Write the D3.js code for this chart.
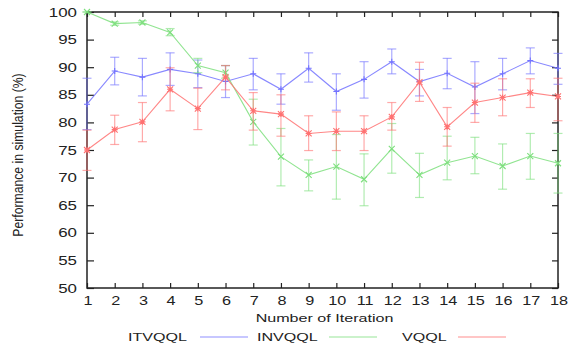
<!DOCTYPE html>
<html>
<head>
<meta charset="utf-8">
<script src="https://cdn.jsdelivr.net/npm/d3@7"></script>
<style>
  body { margin: 0; background: #fff; }
  text { font-family: "Liberation Sans", Arial, sans-serif; fill: #222; }
</style>
</head>
<body>
<div id="chart"></div>
<script>
// values
var iterations = [1, 2, 3, 4, 5, 6, 7, 8, 9, 10, 11, 12, 13, 14, 15, 16, 17, 18];
var yTicks = [50, 55, 60, 65, 70, 75, 80, 85, 90, 95, 100];

var itvqql   = [83.3, 89.3, 88.2, 89.6, 88.8, 87.4, 88.8, 86.0, 89.8, 85.6, 87.8, 91.0, 87.4, 88.9, 86.4, 88.8, 91.2, 89.8];
var itvqqlLo = [78.7, 86.8, 84.8, 86.7, 86.3, 84.5, 85.9, 83.3, 87.3, 82.2, 84.4, 88.8, 84.8, 86.1, 81.6, 85.9, 88.8, 86.9];
var itvqqlHi = [88.0, 91.8, 91.6, 92.6, 91.3, 90.3, 91.6, 88.8, 92.6, 88.8, 91.0, 93.3, 89.6, 91.6, 91.0, 91.6, 93.5, 92.5];

var invqql   = [100, 97.9, 98.1, 96.3, 90.3, 89.0, 80.1, 73.8, 70.5, 72.0, 69.7, 75.2, 70.5, 72.7, 73.9, 72.1, 73.9, 72.6];
var invqqlLo = [100, 97.6, 97.8, 95.7, 89.0, 88.0, 75.9, 68.5, 67.6, 66.1, 64.9, 70.8, 66.4, 69.6, 70.7, 67.9, 69.7, 67.2];
var invqqlHi = [100, 98.2, 98.4, 97.0, 91.6, 90.3, 84.2, 78.9, 73.2, 77.8, 74.3, 79.8, 74.4, 77.5, 77.3, 76.1, 78.0, 78.0];

var vqql   = [75.0, 78.7, 80.1, 86.0, 82.5, 88.2, 82.1, 81.5, 78.0, 78.4, 78.4, 81.0, 87.3, 79.2, 83.6, 84.5, 85.4, 84.7];
var vqqlLo = [71.3, 76.0, 76.5, 82.1, 78.7, 85.9, 78.6, 77.5, 74.9, 74.9, 74.9, 78.6, 83.8, 75.7, 80.0, 81.2, 82.7, 80.3];
var vqqlHi = [78.6, 81.3, 83.6, 89.9, 86.2, 90.3, 85.4, 85.0, 81.2, 81.9, 81.2, 83.6, 90.9, 82.7, 87.1, 87.9, 87.9, 88.0];

var seriesNames = ["ITVQQL", "INVQQL", "VQQL"];

var series = [
  { name: seriesNames[0], vals: itvqql, lo: itvqqlLo, hi: itvqqlHi, color: "#7373ff", marker: "plus" },
  { name: seriesNames[1], vals: invqql, lo: invqqlLo, hi: invqqlHi, color: "#7ddf7d", marker: "cross" },
  { name: seriesNames[2], vals: vqql, lo: vqqlLo, hi: vqqlHi, color: "#ff7171", marker: "star" }
];

var W = 570, H = 343;
var margin = { top: 12, right: 12, bottom: 55, left: 87 },
  width = W - margin.left - margin.right,
  height = H - margin.top - margin.bottom;

var x = d3.scaleLinear().domain([1, 18]).range([0, width]);
var y = d3.scaleLinear().domain([50, 100]).range([height, 0]);

var root = d3.select("#chart").append("svg")
  .attr("width", W)
  .attr("height", H);

var svg = root.append("g")
  .attr("transform", "translate(" + margin.left + "," + margin.top + ")");

// axes: ticks inward on all four sides, gnuplot style
var axisColor = "#222";
function styleAxis(g) {
  g.select(".domain").remove();
  g.selectAll("line").attr("stroke", axisColor).attr("stroke-width", 1.2);
}

svg.append("g").attr("transform", "translate(0," + height + ")")
  .call(d3.axisBottom(x).tickValues(iterations).tickSize(-5).tickFormat(""))
  .call(styleAxis);
svg.append("g")
  .call(d3.axisTop(x).tickValues(iterations).tickSize(-5).tickFormat(""))
  .call(styleAxis);
svg.append("g")
  .call(d3.axisLeft(y).tickValues(yTicks).tickSize(-7).tickFormat(""))
  .call(styleAxis);
svg.append("g").attr("transform", "translate(" + width + ",0)")
  .call(d3.axisRight(y).tickValues(yTicks).tickSize(-6).tickFormat(""))
  .call(styleAxis);

svg.append("rect")
  .attr("width", width)
  .attr("height", height)
  .attr("fill", "none")
  .attr("stroke", axisColor)
  .attr("stroke-width", 1.5);

// tick labels (the source image is horizontally stretched)
var sx = 1.3;
svg.selectAll(".ylab").data(yTicks).enter().append("text")
  .attr("class", "ylab")
  .attr("transform", function (d) { return "translate(-10," + y(d) + ") scale(" + sx + ",1)"; })
  .attr("dy", "0.36em")
  .style("text-anchor", "end")
  .style("font-size", "13px")
  .text(function (d) { return d; });

svg.selectAll(".xlab").data(iterations).enter().append("text")
  .attr("class", "xlab")
  .attr("transform", function (d) { return "translate(" + (x(d) + 1) + "," + (height + 17) + ") scale(" + sx + ",1)"; })
  .style("text-anchor", "middle")
  .style("font-size", "12.5px")
  .text(function (d) { return d; });

root.append("text")
  .attr("transform", "translate(" + (margin.left + width / 2 + 2) + ",322) scale(1.4,1)")
  .style("text-anchor", "middle")
  .style("font-size", "11.5px")
  .text("Number of Iteration");

root.append("text")
  .attr("transform", "translate(23,155) rotate(-90) scale(1,1.2)")
  .style("text-anchor", "middle")
  .style("font-size", "12.2px")
  .text("Performance in simulation (%)");

// series
var line = d3.line()
  .x(function (d) { return x(d.it); })
  .y(function (d) { return y(d.v); });

function markerPath(type, s) {
  if (type === "plus") return "M" + (-s) + ",0H" + s + "M0," + (-s) + "V" + s;
  if (type === "cross") return "M" + (-s) + "," + (-s) + "L" + s + "," + s + "M" + (-s) + "," + s + "L" + s + "," + (-s);
  return "M" + (-s) + ",0H" + s + "M0," + (-s) + "V" + s +
    "M" + (-s) + "," + (-s) + "L" + s + "," + s + "M" + (-s) + "," + s + "L" + s + "," + (-s);
}

series.forEach(function (s) {
  var pts = iterations.map(function (it, i) {
    return { it: it, v: s.vals[i], lo: s.lo[i], hi: s.hi[i] };
  });
  var g = svg.append("g").attr("class", "series");

  var eb = g.selectAll(".err").data(pts).enter().append("g")
    .attr("class", "err")
    .attr("stroke", s.color)
    .attr("stroke-opacity", 0.6)
    .attr("stroke-width", 1.2);
  eb.append("line")
    .attr("x1", function (d) { return x(d.it); })
    .attr("x2", function (d) { return x(d.it); })
    .attr("y1", function (d) { return y(d.lo); })
    .attr("y2", function (d) { return y(d.hi); });
  eb.append("line")
    .attr("x1", function (d) { return x(d.it) - 4.5; })
    .attr("x2", function (d) { return x(d.it) + 4.5; })
    .attr("y1", function (d) { return y(d.lo); })
    .attr("y2", function (d) { return y(d.lo); });
  eb.append("line")
    .attr("x1", function (d) { return x(d.it) - 4.5; })
    .attr("x2", function (d) { return x(d.it) + 4.5; })
    .attr("y1", function (d) { return y(d.hi); })
    .attr("y2", function (d) { return y(d.hi); });

  g.append("path")
    .datum(pts)
    .attr("fill", "none")
    .attr("stroke", s.color)
    .attr("stroke-opacity", 0.85)
    .attr("stroke-width", 1.1)
    .attr("d", line);

  g.selectAll(".pt").data(pts).enter().append("path")
    .attr("class", "pt")
    .attr("transform", function (d) { return "translate(" + x(d.it) + "," + y(d.v) + ")"; })
    .attr("d", markerPath(s.marker, 3))
    .attr("fill", "none")
    .attr("stroke", s.color)
    .attr("stroke-width", 1.1);
});

// legend
var legendX = [128, 257, 402];
var legendLineX = [200, 329, 458];
var legend = root.selectAll(".legend").data(series).enter().append("g")
  .attr("class", "legend");
legend.append("text")
  .attr("transform", function (d, i) { return "translate(" + legendX[i] + ",341) scale(1.4,1)"; })
  .style("font-size", "11.5px")
  .text(function (d) { return d.name; });
legend.append("line")
  .attr("x1", function (d, i) { return legendLineX[i]; })
  .attr("x2", function (d, i) { return legendLineX[i] + 48; })
  .attr("y1", 337)
  .attr("y2", 337)
  .attr("stroke", function (d) { return d.color; })
  .attr("stroke-opacity", 0.8)
  .attr("stroke-width", 1.2);
</script>
</body>
</html>
